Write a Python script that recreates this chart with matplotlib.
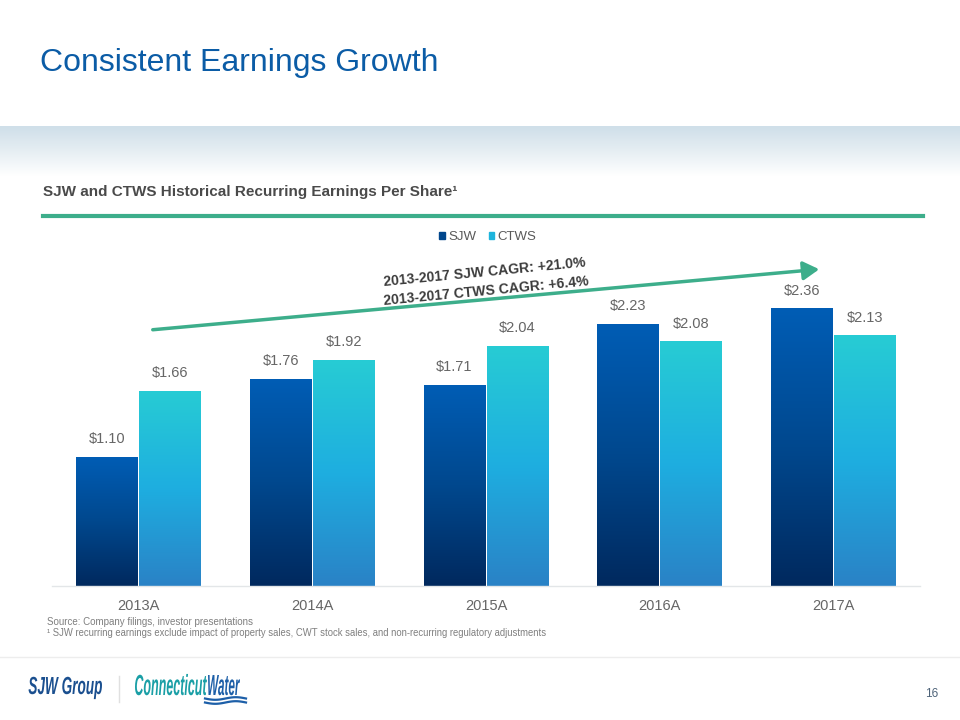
import numpy as np
import matplotlib
matplotlib.use("Agg")
import matplotlib.pyplot as plt
from matplotlib.colors import LinearSegmentedColormap
from matplotlib.patches import FancyArrowPatch, Patch, PathPatch
from matplotlib.lines import Line2D
from matplotlib.textpath import TextPath
from matplotlib.font_manager import FontProperties
from matplotlib.transforms import Affine2D

plt.rcParams['font.family'] = ['Liberation Sans', 'DejaVu Sans']

categories = ["2013A", "2014A", "2015A", "2016A", "2017A"]
sjw = [1.10, 1.76, 1.71, 2.23, 2.36]
ctws = [1.66, 1.92, 2.04, 2.08, 2.13]
series_names = ["SJW", "CTWS"]

W, H = 960, 720
fig = plt.figure(figsize=(9.6, 7.2), dpi=100)

def fx(px):
    return px / W

def fy(py):
    return 1 - py / H

# header gradient band
band = fig.add_axes([0, fy(176), 1, (176 - 126) / H])
band.axis('off')
grad = np.linspace(0, 1, 100).reshape(-1, 1)
band_cmap = LinearSegmentedColormap.from_list('band', ['#CFDFE9', '#E6EEF3', '#FFFFFF'])
band.imshow(grad, aspect='auto', cmap=band_cmap, extent=[0, 1, 0, 1], origin='upper')

# title
fig.text(fx(40), fy(63), "Consistent Earnings Growth", fontsize=23, color='#0B5CA6',
         va='center', ha='left')
# subtitle
fig.text(fx(43), fy(192), "SJW and CTWS Historical Recurring Earnings Per Share\u00b9",
         fontsize=11, fontweight='bold', color='#4A4A4A', va='center', ha='left')
# green rule
fig.add_artist(Line2D([fx(43), fx(923)], [fy(216), fy(216)], color='#3DAE8B', lw=3,
                      transform=fig.transFigure))

# main axes
left_px, right_px, bottom_px = 52, 920, 586
ppu = 117.7
ymax = 2.8
top_px = bottom_px - ymax * ppu
ax = fig.add_axes([fx(left_px), fy(bottom_px), fx(right_px - left_px), (bottom_px - top_px) / H])
ax.set_xlim(-0.5, 4.5)
ax.set_ylim(0, ymax)
ax.patch.set_alpha(0)
for s in ['top', 'right', 'left']:
    ax.spines[s].set_visible(False)
ax.spines['bottom'].set_color('#E3E6E8')
ax.spines['bottom'].set_linewidth(1)
ax.set_yticks([])
x = np.arange(len(categories))
ax.set_xticks(x)
ax.set_xticklabels(categories, fontsize=10.5, color='#666666')
ax.tick_params(axis='x', length=0, pad=9)

bw = 0.357
sjw_cmap = LinearSegmentedColormap.from_list('sjw', ['#005DB5', '#00488E', '#00295E'])
ctws_cmap = LinearSegmentedColormap.from_list('ctws', ['#27CCD4', '#1EAEE0', '#2A82C6'])
bars1 = ax.bar(x - bw / 2 - 0.003, sjw, bw, color='none', edgecolor='none', label=series_names[0])
bars2 = ax.bar(x + bw / 2 + 0.003, ctws, bw, color='none', edgecolor='none', label=series_names[1])

for bars, cmap in [(bars1, sjw_cmap), (bars2, ctws_cmap)]:
    for b in bars:
        x0, w, h = b.get_x(), b.get_width(), b.get_height()
        g = np.linspace(0, 1, 256).reshape(-1, 1)
        im = ax.imshow(g, aspect='auto', cmap=cmap, extent=[x0, x0 + w, 0, h], origin='upper',
                       zorder=2)
        im.set_clip_path(b)
        ax.text(x0 + w / 2, h + 0.09, f"${h:.2f}", ha='center', va='bottom', fontsize=10.5,
                color='#666666', zorder=3)

# legend
handles = [Patch(color='#00468C'), Patch(color='#1EB4DC')]
leg = fig.legend(handles, series_names, loc='center', bbox_to_anchor=(fx(488), fy(237)), ncol=2,
                 frameon=False, fontsize=9.5, handlelength=0.4, handleheight=0.4,
                 handletextpad=0.25, columnspacing=1.0)
for t in leg.get_texts():
    t.set_color('#595959')

# CAGR arrow
arrow = FancyArrowPatch((fx(150), fy(330)), (fx(822), fy(269)), transform=fig.transFigure,
                        arrowstyle='-|>,head_length=6,head_width=3.5', color='#3DAE8B', lw=2.5,
                        mutation_scale=1.6)
fig.add_artist(arrow)
fig.text(fx(485), fy(282), "2013-2017 SJW CAGR: +21.0%\n2013-2017 CTWS CAGR: +6.4%",
         fontsize=10.1, fontweight='bold', color='#3C3C3C', rotation=5.5, ha='center', va='center',
         linespacing=1.45, rotation_mode='anchor')

# footnotes
fig.text(fx(47), fy(622), "Source: Company filings, investor presentations", fontsize=7,
         color='#7F7F7F', va='center')
fig.text(fx(47), fy(633),
         "\u00b9 SJW recurring earnings exclude impact of property sales, CWT stock sales, and non-recurring regulatory adjustments",
         fontsize=6.85, color='#7F7F7F', va='center')

# footer line
fig.add_artist(Line2D([0, 1], [fy(657), fy(657)], color='#EDEDED', lw=1, transform=fig.transFigure))

# logos as condensed text paths
def logo_text(s, x0, x1, ytop, ybase, color):
    fp = FontProperties(family='Liberation Sans', weight='bold', style='italic')
    tp = TextPath((0, 0), s, size=20, prop=fp)
    ext = tp.get_extents()
    caph = TextPath((0, 0), "H", size=20, prop=fp).get_extents().y1
    sx = (x1 - x0) / ext.width
    sy = (ybase - ytop) / caph
    tr = Affine2D().translate(-ext.x0, 0).scale(sx, sy).translate(x0, H - ybase)
    fig.add_artist(PathPatch(tp, transform=tr, color=color, lw=0))

logo_text("SJW Group", 28.5, 102, 677, 694, '#1A4F8F')
fig.add_artist(Line2D([fx(119), fx(119)], [fy(676), fy(702)], color='#E0E0E0', lw=1,
                      transform=fig.transFigure))
logo_text("Connecticut", 135, 207, 675, 695, '#1A9FA6')
logo_text("Water", 208, 240, 675, 695, '#1D5FA8')
wx = np.linspace(205, 246, 40)
for off in (698.5, 702.5):
    wy = off + 1.3 * np.sin((wx - 205) / 41 * 2 * np.pi)
    fig.add_artist(Line2D(wx / W, 1 - wy / H, color='#1D5FA8', lw=1.6, transform=fig.transFigure))

fig.text(fx(932), fy(694), "16", fontsize=8.5, color='#4D6278', va='center', ha='center')

fig.savefig("out.png", dpi=100)
